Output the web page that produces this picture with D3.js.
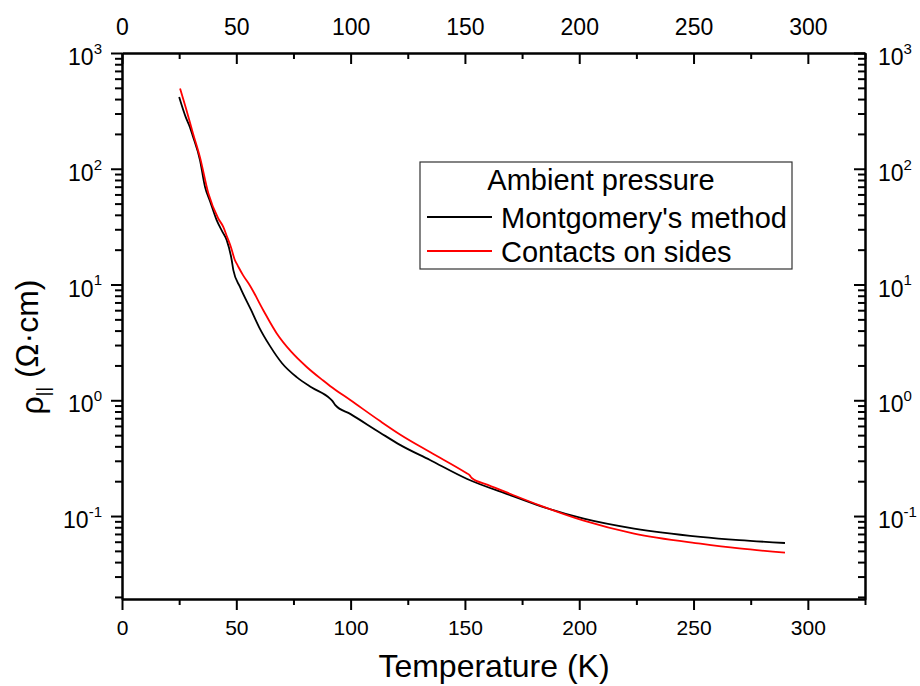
<!DOCTYPE html>
<html><head><meta charset="utf-8">
<script src="https://cdn.jsdelivr.net/npm/d3@7"></script>
<style>
html,body{margin:0;padding:0;background:#fff;}
svg{display:block;font-family:"Liberation Sans",Arial,sans-serif;}
</style></head>
<body>
<svg id="chart" width="920" height="686"></svg>
<script>
// ---- data ----
const tempMontgomery = [25, 28, 29.7, 31, 34.1, 36.3, 38.5, 41.4, 44, 45.8, 48, 48.7, 51.6, 56.5, 60, 64.7, 70, 76.4, 83, 91, 92, 93.2, 100, 112.9, 121.6, 134.7, 151, 170, 183, 202, 224, 253, 270, 290];
const rhoMontgomery  = [417, 275, 229, 191, 119, 70, 52.5, 36, 28.4, 24.2, 16.2, 13.3, 9.55, 6.0, 4.27, 2.95, 2.09, 1.585, 1.29, 1.035, 0.989, 0.912, 0.759, 0.525, 0.412, 0.305, 0.209, 0.151, 0.122, 0.0948, 0.0778, 0.0661, 0.0619, 0.0585];
const tempSides = [25.4, 28, 31, 34.1, 37.8, 42.1, 44.3, 46, 47.7, 49.4, 50.3, 51, 53, 56, 61.8, 67.7, 74, 80.8, 88, 91, 100, 112.9, 121.6, 134.7, 150.8, 152, 153, 160, 170, 183, 202, 224, 253, 270, 290];
const rhoSides  = [494, 331, 204, 126, 61, 37.2, 31.5, 25.7, 20.9, 16.2, 15.0, 14.1, 12.0, 9.77, 6.0, 3.78, 2.63, 1.94, 1.48, 1.33, 1.0, 0.661, 0.507, 0.357, 0.234, 0.226, 0.213, 0.186, 0.155, 0.123, 0.0912, 0.0705, 0.0577, 0.0525, 0.0483];
const xMajorTicks = [0, 50, 100, 150, 200, 250, 300];
const xMinorTicks = [25, 75, 125, 175, 225, 275, 325];
const yMajorTicks = [0.1, 1, 10, 100, 1000];
const seriesNames = ["Montgomery's method", "Contacts on sides"];
const seriesColors = ["#000000", "#ff0000"];
const legendTitle = "Ambient pressure";

// ---- layout ----
const L = 122, R = 865, T = 53, B = 599;
const svg = d3.select("#chart");
const x = d3.scaleLinear().domain([0, 325]).range([L, R]);
const y = d3.scaleLog().domain([0.0192, 1000]).range([B, T]);

const yMinorTicks = [];
[-2, -1, 0, 1, 2].forEach(e => { for (let k = 2; k <= 9; k++) { const v = k * Math.pow(10, e); if (v >= 0.0192 && v <= 1000) yMinorTicks.push(v); } });

function styleAxis(g) {
  g.select(".domain").attr("stroke", "#000").attr("stroke-width", 2);
  g.selectAll(".tick line").attr("stroke", "#000").attr("stroke-width", 2);
  g.selectAll("text").attr("fill", "#000");
}

// bottom
svg.append("g").attr("transform", `translate(0,${B})`)
  .call(d3.axisBottom(x).tickValues(xMinorTicks).tickSize(6).tickFormat("").tickSizeOuter(0))
  .call(styleAxis);
svg.append("g").attr("transform", `translate(0,${B})`)
  .call(d3.axisBottom(x).tickValues(xMajorTicks).tickSize(11).tickPadding(10).tickSizeOuter(0).tickFormat(d3.format("d")))
  .call(styleAxis)
  .call(g => g.selectAll("text").attr("font-size", 21));
// top
svg.append("g").attr("transform", `translate(0,${T})`)
  .call(d3.axisTop(x).tickValues(xMinorTicks).tickSize(-6).tickFormat("").tickSizeOuter(0))
  .call(styleAxis);
svg.append("g").attr("transform", `translate(0,${T})`)
  .call(d3.axisTop(x).tickValues(xMajorTicks).tickSize(-11).tickPadding(18).tickSizeOuter(0).tickFormat(d3.format("d")))
  .call(styleAxis)
  .call(g => g.selectAll("text").attr("font-size", 23));

function powLabel(sel) {
  sel.each(function(d) {
    const t = d3.select(this);
    const e = Math.round(Math.log10(d));
    t.text(null);
    t.append("tspan").text("10");
    t.append("tspan").attr("font-size", 15).attr("dy", "-0.75em").text(e);
  });
}
// left
svg.append("g").attr("transform", `translate(${L},0)`)
  .call(d3.axisLeft(y).tickValues(yMinorTicks).tickSize(7).tickFormat("").tickSizeOuter(0))
  .call(styleAxis);
svg.append("g").attr("transform", `translate(${L},0)`)
  .call(d3.axisLeft(y).tickValues(yMajorTicks).tickSize(11).tickPadding(9).tickSizeOuter(0).tickFormat(d => d))
  .call(styleAxis)
  .call(g => g.selectAll("text").attr("font-size", 23).attr("dy", "0.5em").call(powLabel));
// right
svg.append("g").attr("transform", `translate(${R},0)`)
  .call(d3.axisRight(y).tickValues(yMinorTicks).tickSize(-7).tickFormat("").tickSizeOuter(0))
  .call(styleAxis);
svg.append("g").attr("transform", `translate(${R},0)`)
  .call(d3.axisRight(y).tickValues(yMajorTicks).tickSize(-11).tickPadding(13).tickSizeOuter(0).tickFormat(d => d))
  .call(styleAxis)
  .call(g => g.selectAll("text").attr("font-size", 23).attr("dy", "0.5em").call(powLabel));

// curves
const line = d3.line().x(d => x(d[0])).y(d => y(d[1])).curve(d3.curveMonotoneX);
const series = [
  d3.zip(tempMontgomery, rhoMontgomery),
  d3.zip(tempSides, rhoSides)
];
series.forEach((s, i) => {
  svg.append("path").datum(s).attr("d", line)
    .attr("fill", "none").attr("stroke", seriesColors[i]).attr("stroke-width", 1.8)
    .attr("stroke-linejoin", "round");
});

// legend
const lg = svg.append("g");
lg.append("rect").attr("x", 420).attr("y", 162).attr("width", 372).attr("height", 107)
  .attr("fill", "#fff").attr("stroke", "#333").attr("stroke-width", 1.2);
lg.append("text").attr("x", 601).attr("y", 190).attr("text-anchor", "middle")
  .attr("font-size", 29).text(legendTitle);
seriesNames.forEach((n, i) => {
  const yy = [217, 251][i];
  lg.append("line").attr("x1", 427).attr("x2", 492).attr("y1", yy).attr("y2", yy)
    .attr("stroke", seriesColors[i]).attr("stroke-width", 1.8);
  lg.append("text").attr("x", 501).attr("y", yy + 10.5).attr("font-size", 29).text(n);
});

// axis titles
svg.append("text").attr("x", 494).attr("y", 677).attr("text-anchor", "middle")
  .attr("font-size", 32).text("Temperature (K)");
const yt = svg.append("text").attr("transform", "translate(43,347) rotate(-90)")
  .attr("text-anchor", "middle").attr("font-size", 32);
yt.append("tspan").text("ρ");
yt.append("tspan").attr("font-size", 18).attr("dy", "0.35em").text("||");
yt.append("tspan").attr("dy", "-0.35em").text(" (Ω·cm)");
</script>
</body></html>
